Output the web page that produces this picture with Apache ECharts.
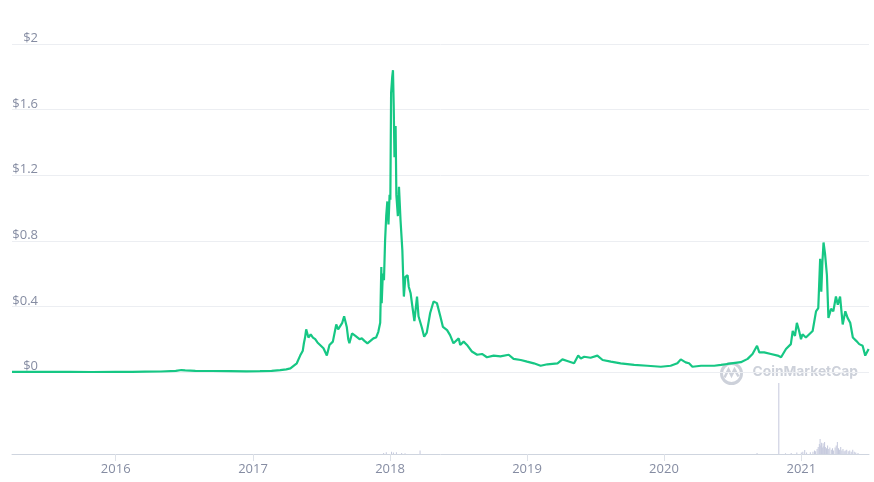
<!DOCTYPE html>
<html>
<head>
<meta charset="utf-8">
<script src="https://cdn.jsdelivr.net/npm/echarts@6/dist/echarts.min.js"></script>
<style>
html,body{margin:0;padding:0;background:#fff;}
#chart{width:874px;height:482px;}
</style>
</head>
<body>
<div id="chart"></div>
<script>
// ---- data ----
const priceDates = [
'2015-04-01','2015-05-15','2015-07-01','2015-09-01','2015-11-01','2016-01-01','2016-02-15','2016-03-20','2016-05-01','2016-06-10',
'2016-06-25','2016-07-05','2016-08-01','2016-09-15','2016-11-01','2016-12-15','2017-01-20','2017-02-20','2017-03-15','2017-03-31',
'2017-04-11','2017-04-28','2017-05-07','2017-05-14','2017-05-17','2017-05-20','2017-05-23','2017-05-29','2017-06-04','2017-06-10',
'2017-06-16','2017-06-22','2017-06-29','2017-07-08','2017-07-13','2017-07-17','2017-07-24','2017-08-02','2017-08-11','2017-08-16',
'2017-08-21','2017-08-27','2017-09-01','2017-09-08','2017-09-12','2017-09-15','2017-09-22','2017-10-01','2017-10-05','2017-10-12',
'2017-10-18','2017-10-25','2017-11-02','2017-11-10','2017-11-18','2017-11-25','2017-12-01','2017-12-06','2017-12-09','2017-12-10',
'2017-12-13','2017-12-16','2017-12-19','2017-12-22','2017-12-25','2017-12-28','2017-12-31','2018-01-02','2018-01-04','2018-01-07',
'2018-01-09','2018-01-11','2018-01-13','2018-01-16','2018-01-18','2018-01-22','2018-01-25','2018-01-29','2018-02-03','2018-02-06',
'2018-02-07','2018-02-11','2018-02-17','2018-02-20','2018-02-25','2018-03-01','2018-03-07','2018-03-14','2018-03-18','2018-03-27',
'2018-04-02','2018-04-09','2018-04-18','2018-04-27','2018-05-06','2018-05-15','2018-05-22','2018-06-02','2018-06-10','2018-06-19',
'2018-07-03','2018-07-07','2018-07-16','2018-07-25','2018-08-07','2018-08-21','2018-09-03','2018-09-16','2018-10-04','2018-10-22',
'2018-11-13','2018-11-26','2018-12-15','2019-01-01','2019-01-19','2019-02-06','2019-02-24','2019-03-23','2019-04-05','2019-04-18',
'2019-05-06','2019-05-17','2019-05-24','2019-06-02','2019-06-19','2019-07-07','2019-07-21','2019-08-12','2019-09-07','2019-10-13',
'2019-11-17','2019-12-23','2020-01-18','2020-02-05','2020-02-14','2020-02-27','2020-03-07','2020-03-16','2020-04-08','2020-05-13',
'2020-05-31','2020-06-17','2020-07-23','2020-08-10','2020-08-23','2020-09-04','2020-09-10','2020-09-23','2020-10-11','2020-10-29',
'2020-11-07','2020-11-20','2020-12-03','2020-12-08','2020-12-14','2020-12-19','2020-12-25','2020-12-30','2021-01-03','2021-01-12',
'2021-01-21','2021-01-30','2021-02-08','2021-02-14','2021-02-19','2021-02-22','2021-02-25','2021-02-28','2021-03-04','2021-03-09',
'2021-03-13','2021-03-20','2021-03-26','2021-04-02','2021-04-07','2021-04-13','2021-04-20','2021-04-27','2021-05-03','2021-05-10',
'2021-05-17','2021-05-26','2021-06-03','2021-06-12','2021-06-19','2021-06-28'
];
const priceValues = [
0.0004,0.0003,0.0002,0.0002,0.0001,0.0002,0.0006,0.002,0.003,0.007,
0.012,0.010,0.007,0.006,0.005,0.004,0.005,0.007,0.011,0.016,
0.022,0.053,0.10,0.13,0.177,0.21,0.26,0.21,0.23,0.21,
0.20,0.18,0.165,0.145,0.12,0.10,0.165,0.185,0.29,0.26,
0.255,0.30,0.34,0.275,0.20,0.175,0.235,0.22,0.215,0.20,
0.205,0.19,0.175,0.19,0.205,0.21,0.245,0.30,0.64,0.42,
0.60,0.56,0.80,0.95,1.04,0.90,1.08,1.05,1.70,1.80,
1.84,1.62,1.31,1.50,1.08,0.95,1.13,0.93,0.74,0.52,
0.46,0.58,0.59,0.52,0.48,0.41,0.31,0.46,0.34,0.27,
0.215,0.24,0.36,0.43,0.42,0.34,0.275,0.255,0.225,0.175,
0.205,0.165,0.185,0.165,0.125,0.105,0.11,0.09,0.10,0.095,
0.105,0.08,0.073,0.063,0.053,0.038,0.047,0.053,0.077,0.067,
0.053,0.10,0.083,0.093,0.087,0.10,0.073,0.063,0.053,0.043,
0.038,0.032,0.038,0.053,0.077,0.059,0.053,0.032,0.038,0.038,
0.043,0.049,0.06,0.08,0.11,0.16,0.12,0.12,0.11,0.10,
0.09,0.14,0.17,0.25,0.22,0.30,0.25,0.20,0.23,0.21,
0.23,0.25,0.37,0.39,0.69,0.49,0.67,0.79,0.72,0.59,
0.33,0.385,0.37,0.46,0.41,0.46,0.29,0.37,0.33,0.30,
0.21,0.19,0.17,0.16,0.10,0.14
];
// volume (relative units, the Nov-2020 spike = 100)
const volumeDates = [
'2017-12-15','2017-12-22','2018-01-05','2018-01-10','2018-01-18','2018-02-01','2018-02-10','2018-03-22',
'2020-09-05','2020-11-02','2020-11-20','2020-12-05','2020-12-20','2021-01-01','2021-01-05','2021-01-10',
'2021-01-15','2021-01-25','2021-02-01','2021-02-05','2021-02-08','2021-02-12','2021-02-15','2021-02-18',
'2021-02-20','2021-02-22','2021-02-24','2021-02-26','2021-02-28','2021-03-02','2021-03-04','2021-03-06',
'2021-03-09','2021-03-12','2021-03-15','2021-03-18','2021-03-22','2021-03-25','2021-03-28','2021-04-01',
'2021-04-04','2021-04-07','2021-04-10','2021-04-13','2021-04-16','2021-04-19','2021-04-22','2021-04-25',
'2021-04-28','2021-05-02','2021-05-06','2021-05-10','2021-05-14','2021-05-18','2021-05-22','2021-05-26','2021-06-01'
];
const volumeValues = [
1.5,2.5,3,2,2.5,1.5,1,5,
1.5,100,1,1.5,2,2,3,5.5,
2,2.5,3,5,4,7,10,14,
21,12,16,9,15,11,17,10,
8,12,7,9,6,8,5,9,
12,17,8,6,10,5,7,4,
5,6,4,5,3,6,3,2,1.5
];
const priceTicks = [0, 0.4, 0.8, 1.2, 1.6, 2];
const xMin = '2015-04-01';
const xMax = '2021-06-29';

// ---- chart ----
const chart = echarts.init(document.getElementById('chart'), null, {renderer: 'canvas'});
const labelColor = '#858ca2';
const fontFamily = '"Open Sans", "Noto Sans", sans-serif';

const option = {
  animation: false,
  backgroundColor: '#ffffff',
  grid: [
    {left: 12, right: 5, top: 44, height: 328},
    {left: 12, right: 5, top: 383, height: 71}
  ],
  xAxis: [
    {
      type: 'time', gridIndex: 0, min: xMin, max: xMax,
      show: false
    },
    {
      type: 'time', gridIndex: 1, min: xMin, max: xMax,
      minInterval: 365 * 24 * 3600 * 1000,
      splitNumber: 6,
      axisLine: {show: true, lineStyle: {color: '#cfd5df', width: 1}},
      axisTick: {show: true, length: 7, lineStyle: {color: '#dde1e8'}},
      splitLine: {show: false},
      axisLabel: {
        color: labelColor, fontSize: 13, fontFamily: fontFamily, margin: 9,
        showMinLabel: false, showMaxLabel: false,
        formatter: function (v) {
          const d = new Date(v);
          return (d.getMonth() === 0 && d.getDate() === 1) ? String(d.getFullYear()) : '';
        }
      }
    }
  ],
  yAxis: [
    {
      type: 'value', gridIndex: 0,
      min: priceTicks[0], max: priceTicks[priceTicks.length - 1],
      interval: priceTicks[1] - priceTicks[0],
      axisLine: {show: false},
      axisTick: {show: false},
      splitLine: {show: true, lineStyle: {color: '#eceef2', width: 1}},
      axisLabel: {
        color: labelColor, fontSize: 13, fontFamily: fontFamily,
        margin: -26, align: 'right', verticalAlign: 'bottom', lineHeight: 11,
        formatter: function (v) { return '$' + (+v.toFixed(1)); }
      }
    },
    {
      type: 'value', gridIndex: 1, min: 0, max: 100,
      show: false, splitLine: {show: false}
    }
  ],
  graphic: [
    {
      type: 'group', left: 719, top: 361, z: 0,
      children: [
        {type: 'circle', shape: {cx: 12, cy: 11, r: 10}, style: {fill: 'none', stroke: '#cdd1da', lineWidth: 3}},
        {type: 'polyline', shape: {points: [[5, 15], [9, 7], [12, 13], [15, 7], [19, 14]]},
          style: {fill: 'none', stroke: '#cdd1da', lineWidth: 2.5}},
        {type: 'text', left: 33, top: 2,
          style: {text: 'CoinMarketCap', fill: '#cdd1da', font: 'bold 13.8px Inter, "Open Sans", sans-serif'}}
      ]
    }
  ],
  series: [
    {
      type: 'line', name: 'Price',
      xAxisIndex: 0, yAxisIndex: 0,
      data: priceDates.map((d, i) => [d, priceValues[i]]),
      showSymbol: false, symbol: 'none',
      lineStyle: {color: '#16c784', width: 2.2},
      z: 3
    },
    {
      type: 'bar', name: 'Volume',
      xAxisIndex: 1, yAxisIndex: 1,
      data: volumeDates.map((d, i) => [d, volumeValues[i]]),
      barWidth: 1,
      itemStyle: {color: '#c5c9dd'}
    }
  ]
};
chart.setOption(option);
</script>
</body>
</html>
